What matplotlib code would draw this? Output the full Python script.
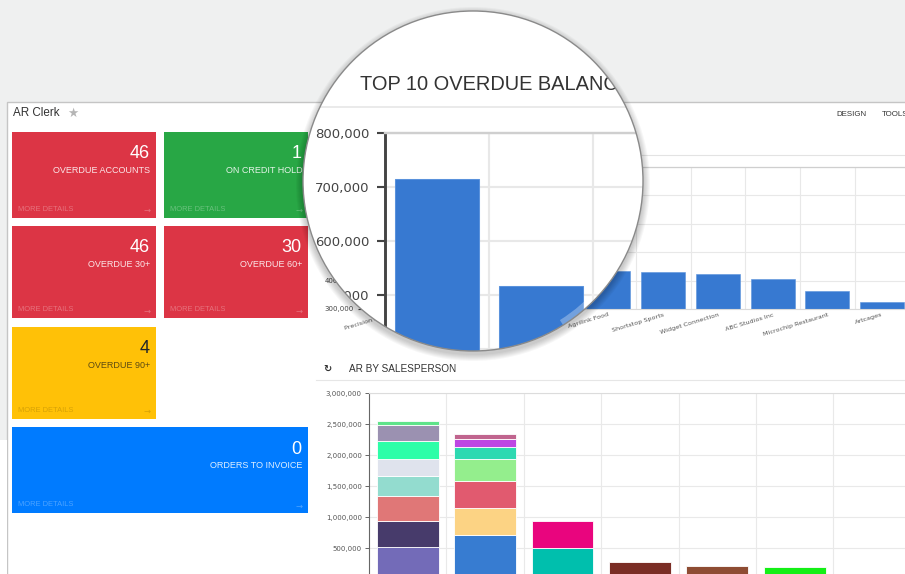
import numpy as np
import matplotlib
matplotlib.use("Agg")
import matplotlib.pyplot as plt
from matplotlib.patches import Rectangle, Circle, Wedge

plt.rcParams['font.family'] = ['Liberation Sans', 'DejaVu Sans']

# KPI tiles
tile_values = [46, 1, 46, 30, 4, 0]
tile_labels = ['OVERDUE ACCOUNTS', 'ON CREDIT HOLD', 'OVERDUE 30+', 'OVERDUE 60+',
               'OVERDUE 90+', 'ORDERS TO INVOICE']

# top 10 overdue balances
overdue_customers = ['Precision Parts', 'Zeta Labs', 'Orion Inc', 'Nova Foods',
                     'Agrilink Food', 'Shortstop Sports', 'Widget Connection',
                     'ABC Studios Inc', 'Microchip Restaurant', 'Artcages']
overdue_balances = [715000, 517000, 470000, 445000, 434000, 429000, 423000,
                    407000, 363000, 324000]
overdue_ticks = [300000, 400000, 500000, 600000, 700000, 800000]

# AR by salesperson, one stacked segment per customer
salespeople = ['Rep 1', 'Rep 2', 'Rep 3', 'Rep 4', 'Rep 5', 'Rep 6', 'Rep 7']
ar_segments = [
    [526000, 414000, 404000, 322000, 279000, 281000, 258000, 74000],
    [719000, 436000, 430000, 360000, 194000, 119000, 86000],
    [500000, 440000],
    [274000],
    [215000],
    [200000],
    [],
]
ar_ticks = [0, 500000, 1000000, 1500000, 2000000, 2500000, 3000000]

# ---- styles / layout (pixels) ----
W, H = 905, 574
RED, GREEN, YELLOW, BLUE = '#dc3545', '#28a745', '#ffc107', '#007bff'
tile_boxes = [(12.3, 131.7, 156.3, 217.7), (164, 131.7, 308.3, 217.7),
              (12.3, 226, 156.3, 318.3), (164, 226, 308.3, 318.3),
              (12.3, 326.7, 156.3, 419), (12.3, 427.3, 308.3, 513.3)]
tile_colors = [RED, GREEN, RED, RED, YELLOW, BLUE]
seg_colors = [
    ['#736bb8', '#473b6b', '#e07777', '#93dccf', '#dfe3ed', '#2dfea8', '#9b91b1', '#5fe38a'],
    ['#377cd1', '#fcd384', '#e15a6f', '#94ee8d', '#2dd9b1', '#bd47e3', '#c0648e'],
    ['#00bfad', '#e9057e'],
    ['#7a2d25'],
    ['#8e4c33'],
    ['#14ef16'],
    [],
]
LENS_X, LENS_Y, LENS_R, ZOOM = 473, 181, 170, 1.9


def box(x0, y0, x1, y1):
    return [x0 / W, 1 - y1 / H, (x1 - x0) / W, (y1 - y0) / H]


def px_axes(z):
    a = fig.add_axes([0, 0, 1, 1], zorder=z)
    a.set_xlim(0, W)
    a.set_ylim(H, 0)
    a.axis('off')
    a.patch.set_visible(False)
    return a


def overdue_chart(ax, s):
    x = np.arange(len(overdue_customers))
    ax.bar(x, overdue_balances, width=0.8, color='#3779d1', edgecolor='#5a92dc',
           linewidth=0.4 * s, zorder=2)
    ax.set_xlim(-0.5, len(x) - 0.5)
    ax.set_ylim(overdue_ticks[0], overdue_ticks[-1])
    ax.set_yticks(overdue_ticks, [f'{v:,}' for v in overdue_ticks])
    ax.set_xticks(x, overdue_customers, rotation=17, ha='right', rotation_mode='anchor')
    ax.tick_params(axis='y', length=2.9 * s, width=0.8 * s, pad=2.9 * s,
                   labelsize=5 * s, labelcolor='#444', color='#444')
    ax.tick_params(axis='x', length=0, pad=2.2 * s, labelsize=4.6 * s, labelcolor='#555')
    for lab in ax.get_xticklabels() + ax.get_yticklabels():
        lab.set_family('DejaVu Sans')
    ax.grid(axis='y', color='#e8e8e8', lw=0.8 * s)
    for b in x[:-1] + 0.5:
        ax.axvline(b, color='#e8e8e8', lw=0.8 * s, zorder=0.5)
    ax.set_axisbelow(True)
    ax.spines['right'].set_visible(False)
    ax.spines['top'].set_color('#cfcfcf')
    ax.spines['top'].set_linewidth(0.9 * s)
    ax.spines['bottom'].set_color('#dadada')
    ax.spines['bottom'].set_linewidth(0.8 * s)
    ax.spines['left'].set_color('#444')
    ax.spines['left'].set_linewidth(1.1 * s)


def lens_filter(img, dpi):
    # the white sheet makes the buffer cover the whole figure, so pixel (0, 0) is the corner
    h, w = img.shape[:2]
    yy, xx = np.mgrid[0:h, 0:w]
    d = np.hypot(xx + 0.5 - LENS_X, yy + 0.5 - LENS_Y)
    out = img.copy()
    out[..., 3] *= np.clip(LENS_R - d + 0.5, 0, 1)
    return out, 0, 0


fig = plt.figure(figsize=(W / 100, H / 100), dpi=100, facecolor='#eff0f0')

# ---- page background, panel and tiles ----
bg = px_axes(0)
bg.add_patch(Rectangle((7, 102), W, H, fc='white', ec='#c5c5c5', lw=1))
bg.add_patch(Rectangle((0, 440), 6.5, H, fc='white', ec='none'))
bg.text(13, 113.5, 'AR Clerk', fontsize=8.4, color='#333', va='center')
bg.text(73, 113, '★', fontsize=9, color='#b5b5b5', va='center', ha='center',
        family='DejaVu Sans')
bg.text(836, 115, 'DESIGN', fontsize=5.7, color='#333', va='center')
bg.text(882, 115, 'TOOLS', fontsize=5.7, color='#333', va='center')
bg.plot([316, W], [155, 155], color='#e3e3e3', lw=0.8)
bg.plot([316, W], [380, 380], color='#e6e6e6', lw=0.8)
bg.text(327, 369, '↻', fontsize=7, color='#333', va='center', ha='center',
        family='DejaVu Sans', fontweight='bold')
bg.text(349, 369, 'AR BY SALESPERSON', fontsize=7.2, color='#333', va='center')

for (x0, y0, x1, y1), c, v, lab in zip(tile_boxes, tile_colors, tile_values, tile_labels):
    bg.add_patch(Rectangle((x0, y0), x1 - x0, y1 - y0, fc=c, ec='none'))
    dark = c == YELLOW
    num_c = '#212529' if dark else 'white'
    lab_c = '#5c4a12' if dark else (1, 1, 1, 0.88)
    more_c = (0, 0, 0, 0.16) if dark else (1, 1, 1, 0.3)
    bg.text(x1 - 6.5, y0 + 20, str(v), fontsize=13, color=num_c, ha='right',
            va='center_baseline')
    bg.text(x1 - 6, y0 + 38.5, lab, fontsize=6.5, color=lab_c, ha='right', va='center')
    bg.text(x0 + 6, y1 - 8.5, 'MORE DETAILS', fontsize=5.4, color=more_c, va='center')
    bg.text(x1 - 6, y1 - 7.5, '→', fontsize=6, color=more_c, ha='right', va='center',
            family='DejaVu Sans')

# ---- top 10 overdue balances (page scale) ----
ax_top = fig.add_axes(box(362, 167, 362 + 547.5, 309), zorder=1)
overdue_chart(ax_top, 1)

# ---- AR by salesperson ----
ax_b = fig.add_axes(box(369, 393.3, 369 + 7 * 77.4, 579.3), zorder=1)
xs = np.arange(len(salespeople))
for i, segs in enumerate(ar_segments):
    bottoms = np.concatenate([[0], np.cumsum(segs)[:-1]]) if segs else []
    for val, bot, col in zip(segs, bottoms, seg_colors[i]):
        ax_b.bar(xs[i], val, bottom=bot, width=0.8, color=col, edgecolor='white',
                 linewidth=0.6, zorder=2)
ax_b.set_xlim(-0.5, len(xs) - 0.5)
ax_b.set_ylim(ar_ticks[0], ar_ticks[-1])
ax_b.set_yticks(ar_ticks, [f'{v:,}' for v in ar_ticks])
ax_b.set_xticks(xs, [''] * len(xs))
ax_b.tick_params(axis='y', length=2.9, width=0.7, pad=2.2, labelsize=5,
                 labelcolor='#555', color='#666')
ax_b.tick_params(axis='x', length=0)
for lab in ax_b.get_yticklabels():
    lab.set_family('DejaVu Sans')
ax_b.grid(axis='y', color='#e9e9e9', lw=0.8)
for b in xs[:-1] + 0.5:
    ax_b.axvline(b, color='#e9e9e9', lw=0.8, zorder=0.5)
ax_b.set_axisbelow(True)
ax_b.spines['right'].set_visible(False)
ax_b.spines['bottom'].set_visible(False)
ax_b.spines['top'].set_color('#dcdcdc')
ax_b.spines['left'].set_color('#666')

# ---- magnifier shadow ----
sh = px_axes(3)
for k in range(1, 8):
    sh.add_patch(Circle((LENS_X, LENS_Y + 3), LENS_R + k, fc='black', ec='none',
                        alpha=0.03))

# ---- magnified view ----
mx0, my0 = 385, 133
ax_m = fig.add_axes(box(mx0, my0, mx0 + 547.5 * ZOOM, my0 + 142 * ZOOM), zorder=5)
ax_m.patch.set_visible(False)
sheet = Rectangle((0, 0), 1, 1, transform=fig.transFigure, fc='white', ec='none',
                  zorder=-100)
ax_m.add_artist(sheet)
sheet.set_clip_on(False)
overdue_chart(ax_m, ZOOM)
ax_m.text(360 / W, 1 - 85 / H, 'TOP 10 OVERDUE BALANCES', transform=fig.transFigure,
          fontsize=14.4, color='#333', va='center', ha='left')
ax_m.plot([0, 1], [1 - 107 / H] * 2, transform=fig.transFigure, color='#e6e6e6',
          lw=1.2, clip_on=False)
ax_m.set_agg_filter(lens_filter)

# ---- lens rim and glare ----
ov = px_axes(6)
ov.add_patch(Wedge((LENS_X, LENS_Y), LENS_R, 22, 58, width=6, fc='white', ec='none',
                   alpha=0.3))
ov.add_patch(Circle((LENS_X, LENS_Y), LENS_R, fill=False, ec='#8a8a8a', lw=1.0))

fig.savefig('out.png', dpi=100, facecolor=fig.get_facecolor())
